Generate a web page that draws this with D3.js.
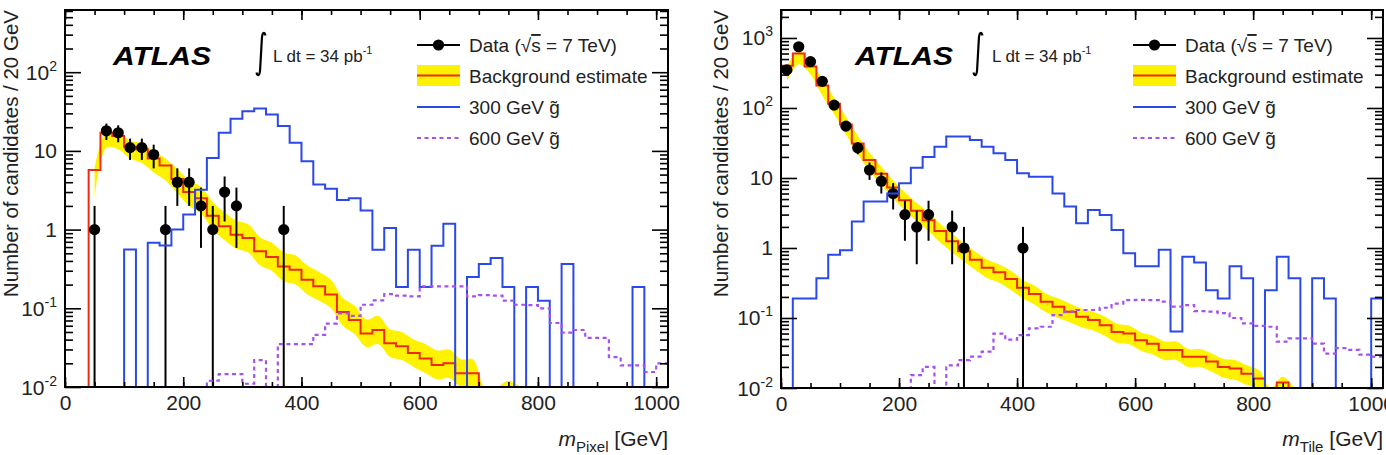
<!DOCTYPE html>
<html>
<head>
<meta charset="utf-8">
<script src="https://cdn.jsdelivr.net/npm/d3@7/dist/d3.min.js"></script>
<style>
  body { margin: 0; background: #ffffff; }
  svg { display: block; font-family: "Liberation Sans", Arial, Helvetica, sans-serif; }
</style>
</head>
<body>
<script>
// lower bin edges in GeV, every bin is 20 GeV wide
var binEdges = [0, 20, 40, 60, 80, 100, 120, 140, 160, 180, 200, 220, 240, 260, 280, 300, 320, 340, 360, 380,
                400, 420, 440, 460, 480, 500, 520, 540, 560, 580, 600, 620, 640, 660, 680, 700, 720, 740, 760, 780,
                800, 820, 840, 860, 880, 900, 920, 940, 960, 980, 1000];
var binWidth = 20;

// x-axis tick labels
var massTicks = [0, 200, 400, 600, 800, 1000];

// ---------- m_Pixel panel ----------
var pixelData = [0, 0, 1, 18, 17, 11, 11, 9, 1, 4, 4, 2, 1, 3, 2, 0, 0, 0, 1, 0,
                 0, 0, 0, 0, 0, 0, 0, 0, 0, 0, 0, 0, 0, 0, 0, 0, 0, 0, 0, 0,
                 0, 0, 0, 0, 0, 0, 0, 0, 0, 0, 0];
var pixelBkg = [0, 0, 5.7, 17, 15.5, 11.3, 10.5, 8.0, 6.5, 4.4, 3.0, 2.5, 1.5, 1.1, 0.86, 0.78, 0.53, 0.45, 0.34, 0.31,
                0.23, 0.19, 0.15, 0.09, 0.071, 0.048, 0.053, 0.036, 0.033, 0.027, 0.023, 0.019, 0.020, 0.015, 0.015, 0, 0, 0, 0, 0,
                0, 0, 0, 0, 0, 0, 0, 0, 0, 0, 0];
var pixelBkgLo = [null, null, 2.5, 11, 10.5, 8.0, 7.0, 5.3, 4.2, 2.9, 2.0, 1.6, 1.0, 0.73, 0.57, 0.51, 0.35, 0.30, 0.22, 0.20,
                  0.15, 0.125, 0.10, 0.06, 0.047, 0.032, 0.035, 0.024, 0.022, 0.018, 0.015, 0.0125, 0.013, 0.010, 0.010, 0.004, 0.002, 0.004, 0.001, null,
                  null, null, null, null, null, null, null, null, null, null, null];
var pixelBkgHi = [null, null, 6.0, 17.5, 17, 13.5, 12.5, 10, 8.0, 5.9, 4.2, 3.5, 2.25, 1.65, 1.3, 1.17, 0.8, 0.68, 0.51, 0.47,
                  0.35, 0.29, 0.23, 0.135, 0.107, 0.072, 0.08, 0.054, 0.05, 0.04, 0.035, 0.029, 0.03, 0.0225, 0.0225, 0.009, 0.006, 0.012, 0.003, null,
                  null, null, null, null, null, null, null, null, null, null, null];
var pixelSig300 = [0, 0, 0, 0, 0, 0.56, 0, 0.68, 0.63, 1.0, 1.55, 3.2, 8.1, 17, 25.7, 32, 34.5, 29, 20.7, 12.7,
                   7.4, 3.75, 3.3, 2.37, 2.5, 1.75, 0.556, 1.05, 0.186, 0.556, 0.186, 0.625, 1.19, 0, 0.25, 0.366, 0.436, 0.186, 0, 0.186,
                   0.125, 0, 0.366, 0, 0, 0, 0, 0, 0.186, 0, 0];
var pixelSig600 = [0, 0, 0, 0, 0, 0, 0, 0, 0, 0, 0, 0, 0.012, 0.0146, 0.0146, 0.011, 0.022, 0, 0.035, 0.035,
                   0.035, 0.046, 0.064, 0.086, 0.08, 0.111, 0.126, 0.151, 0.145, 0.142, 0.19, 0.19, 0.19, 0.19, 0.142, 0.147, 0.145, 0.125, 0.111, 0.11,
                   0.1, 0.065, 0.049, 0.053, 0.042, 0.042, 0.024, 0.0188, 0.0188, 0.0155, 0.02];

// ---------- m_Tile panel ----------
var tileData = [350, 750, 460, 240, 110, 55, 27, 13, 9, 6, 3, 2, 3, 0, 2, 1, 0, 0, 0, 0,
                1, 0, 0, 0, 0, 0, 0, 0, 0, 0, 0, 0, 0, 0, 0, 0, 0, 0, 0, 0,
                0, 0, 0, 0, 0, 0, 0, 0, 0, 0, 0];
var tileBkg = [400, 600, 390, 210, 115, 58, 31, 18, 11.5, 7.3, 4.8, 3.4, 2.5, 1.75, 1.25, 0.9, 0.68, 0.52, 0.45, 0.36,
               0.27, 0.22, 0.17, 0.145, 0.123, 0.104, 0.094, 0.079, 0.063, 0.060, 0.048, 0.043, 0.035, 0.035, 0.028, 0.028, 0.024, 0.020, 0.019, 0.016,
               0.0137, 0.005, 0.012, 0, 0, 0, 0, 0, 0, 0, 0];
var tileBkgLo = [240, 420, 300, 150, 82, 42, 22, 12.5, 8.0, 5.1, 3.4, 2.4, 1.75, 1.2, 0.87, 0.64, 0.48, 0.37, 0.32, 0.25,
                 0.19, 0.155, 0.12, 0.10, 0.086, 0.073, 0.066, 0.055, 0.044, 0.042, 0.034, 0.030, 0.025, 0.025, 0.020, 0.020, 0.017, 0.014, 0.013, 0.011,
                 0.0096, 0.003, 0.008, 0.001, null, null, null, null, null, null, null];
var tileBkgHi = [390, 640, 460, 260, 140, 75, 40, 23, 14.5, 9.2, 6.2, 4.4, 3.2, 2.2, 1.6, 1.17, 0.88, 0.68, 0.58, 0.47,
                 0.35, 0.29, 0.22, 0.19, 0.16, 0.135, 0.122, 0.103, 0.082, 0.078, 0.062, 0.056, 0.046, 0.046, 0.036, 0.036, 0.031, 0.026, 0.025, 0.021,
                 0.018, 0.008, 0.0145, 0.004, null, null, null, null, null, null, null];
var tileSig300 = [0, 0.19, 0.19, 0.37, 0.80, 0.93, 2.4, 4.6, 4.6, 6.0, 8.4, 14, 20, 28, 39, 39, 35, 28, 22.5, 18,
                  11.7, 10.4, 10.4, 6.0, 3.9, 2.25, 3.5, 2.96, 1.81, 0.84, 0.55, 0.55, 0.94, 0.064, 0.75, 0.62, 0.25, 0.19, 0.55, 0.37,
                  0, 0.25, 0.75, 0.37, 0, 0.37, 0.19, 0, 0, 0, 0.19];
var tileSig600 = [0, 0, 0, 0, 0, 0, 0, 0, 0, 0, 0, 0.0153, 0.020, 0, 0.021, 0.025, 0.028, 0.033, 0.060, 0.049,
                  0.057, 0.071, 0.075, 0.11, 0.123, 0.13, 0.13, 0.14, 0.16, 0.18, 0.181, 0.18, 0.171, 0.145, 0.153, 0.125, 0.123, 0.117, 0.1, 0.084,
                  0.077, 0.075, 0.046, 0.051, 0.051, 0.043, 0.031, 0.037, 0.035, 0.030, 0.028];

var w = 1386;
var h = 455;

// colours
const col = {band: "#fff200", bkg: "#ee2a10", sig300: "#2b48e8", sig600: "#a552f0"};
// smallest value we push through the log scale (clamped to the bottom)
const floorVal = 1e-4;

var svg = d3.select("body")
            .append("svg")
            .attr("width", w)
            .attr("height", h);

var panels = [
  {id: "pixel", sub: "Pixel", data: pixelData, bkg: pixelBkg, lo: pixelBkgLo, hi: pixelBkgHi,
   s300: pixelSig300, s600: pixelSig600, yMax: 617, decades: [-2, -1, 0, 1, 2],
   frame: {left: 65, right: 668, top: 10, bottom: 387},
   yTitleX: 18, atlasX: 113, integralX: 261, lumiX: 273, legX: 417},
  {id: "tile", sub: "Tile", data: tileData, bkg: tileBkg, lo: tileBkgLo, hi: tileBkgHi,
   s300: tileSig300, s600: tileSig600, yMax: 2510, decades: [-2, -1, 0, 1, 2, 3],
   frame: {left: 781, right: 1383, top: 10, bottom: 388},
   yTitleX: 728, atlasX: 855, integralX: 978, lumiX: 992, legX: 1133}
];

panels.forEach(drawPanel);

function drawPanel(p) {
  var f = p.frame;

  var x = d3.scaleLinear()
            .domain([0, 1020])
            .range([f.left, f.right]);

  var y = d3.scaleLog()
            .domain([0.01, p.yMax])
            .range([f.bottom, f.top])
            .clamp(true);

  svg.append("clipPath")
     .attr("id", "clip-" + p.id)
     .append("rect")
     .attr("x", f.left)
     .attr("y", f.top)
     .attr("width", f.right - f.left)
     .attr("height", f.bottom - f.top);

  var plot = svg.append("g").attr("clip-path", "url(#clip-" + p.id + ")");

  // yellow uncertainty band, smooth through bin centres
  var bandRows = binEdges.map(function(e, i) {
    return {x: e + binWidth / 2, lo: p.lo[i], hi: p.hi[i]};
  });
  var area = d3.area()
               .defined(function(d) { return d.lo != null; })
               .x(function(d) { return x(d.x); })
               .y0(function(d) { return y(Math.max(d.lo, floorVal)); })
               .y1(function(d) { return y(Math.max(d.hi, floorVal)); })
               .curve(d3.curveCatmullRom);
  plot.append("path")
      .datum(bandRows)
      .attr("d", area)
      .attr("fill", col.band);

  // step histograms
  var step = d3.line()
               .x(function(d) { return x(d[0]); })
               .y(function(d) { return y(Math.max(d[1], floorVal)); })
               .curve(d3.curveStepAfter);

  function stepPoints(values) {
    var pts = values.map(function(v, i) { return [binEdges[i], v]; });
    pts.push([binEdges[values.length - 1] + binWidth, values[values.length - 1]]);
    return pts;
  }

  plot.append("path")
      .datum(stepPoints(p.bkg))
      .attr("d", step)
      .attr("fill", "none")
      .attr("stroke", col.bkg)
      .attr("stroke-width", 2);

  // data points with sqrt(N) error bars
  var pts = [];
  p.data.forEach(function(n, i) {
    if (n > 0) pts.push({x: binEdges[i] + binWidth / 2, n: n});
  });

  plot.selectAll(".err-" + p.id)
      .data(pts)
      .enter()
      .append("line")
      .attr("x1", function(d) { return x(d.x); })
      .attr("x2", function(d) { return x(d.x); })
      .attr("y1", function(d) { return y(Math.max(d.n - Math.sqrt(d.n), floorVal)); })
      .attr("y2", function(d) { return y(d.n + Math.sqrt(d.n)); })
      .attr("stroke", "#000")
      .attr("stroke-width", 2);

  plot.selectAll(".dot-" + p.id)
      .data(pts)
      .enter()
      .append("circle")
      .attr("cx", function(d) { return x(d.x); })
      .attr("cy", function(d) { return y(d.n); })
      .attr("r", 5.6)
      .attr("fill", "#000");

  plot.append("path")
      .datum(stepPoints(p.s300))
      .attr("d", step)
      .attr("fill", "none")
      .attr("stroke", col.sig300)
      .attr("stroke-width", 2);

  plot.append("path")
      .datum(stepPoints(p.s600))
      .attr("d", step)
      .attr("fill", "none")
      .attr("stroke", col.sig600)
      .attr("stroke-width", 2.2)
      .attr("stroke-dasharray", "4,3.5");

  // ticks on all four sides, pointing inwards
  var majorX = massTicks;
  var minorX = d3.range(0, 1001, 50);
  var majorY = p.decades.map(function(k) { return Math.pow(10, k); });
  var minorY = [];
  p.decades.forEach(function(k) {
    for (var m = 2; m <= 9; m++) {
      var v = m * Math.pow(10, k);
      if (v <= p.yMax) minorY.push(v);
    }
  });

  function tickGroup(axis, tx, ty) {
    var g = svg.append("g")
               .attr("transform", "translate(" + tx + "," + ty + ")")
               .call(axis);
    g.select(".domain").remove();
    g.selectAll("line").attr("stroke-width", 1.6);
    return g;
  }

  var xb = tickGroup(d3.axisBottom(x).tickValues(majorX).tickSize(-10).tickPadding(8)
                       .tickFormat(d3.format("d")), 0, f.bottom);
  xb.selectAll("text")
    .attr("font-size", 21)
    .attr("font-family", "Liberation Sans, Arial, sans-serif")
    .attr("fill", "#222");
  tickGroup(d3.axisBottom(x).tickValues(minorX).tickSize(-5).tickFormat(""), 0, f.bottom);
  tickGroup(d3.axisTop(x).tickValues(majorX).tickSize(-10).tickFormat(""), 0, f.top);
  tickGroup(d3.axisTop(x).tickValues(minorX).tickSize(-5).tickFormat(""), 0, f.top);

  tickGroup(d3.axisLeft(y).tickValues(majorY).tickSize(-16).tickFormat(""), f.left, 0);
  tickGroup(d3.axisLeft(y).tickValues(minorY).tickSize(-8).tickFormat(""), f.left, 0);
  tickGroup(d3.axisRight(y).tickValues(majorY).tickSize(-16).tickFormat(""), f.right, 0);
  tickGroup(d3.axisRight(y).tickValues(minorY).tickSize(-8).tickFormat(""), f.right, 0);

  // decade labels: 10^-2 ... 10^3
  p.decades.forEach(function(k) {
    var t = svg.append("text")
               .attr("x", f.left - 8)
               .attr("y", y(Math.pow(10, k)) + 7.5)
               .attr("text-anchor", "end")
               .attr("font-size", 21)
               .attr("fill", "#222");
    if (k === 0) t.text("1");
    else if (k === 1) t.text("10");
    else {
      t.append("tspan").text("10");
      t.append("tspan").attr("dy", -9).attr("font-size", 14).text(k);
    }
  });

  // frame
  svg.append("rect")
     .attr("x", f.left)
     .attr("y", f.top)
     .attr("width", f.right - f.left)
     .attr("height", f.bottom - f.top)
     .attr("fill", "none")
     .attr("stroke", "#000")
     .attr("stroke-width", 2);

  // axis titles
  var xt = svg.append("text")
              .attr("x", f.right)
              .attr("y", 446)
              .attr("text-anchor", "end")
              .attr("font-size", 21)
              .attr("fill", "#222");
  xt.append("tspan").attr("font-style", "italic").text("m");
  xt.append("tspan").attr("font-size", 15).attr("dy", 6).text(p.sub);
  xt.append("tspan").attr("dy", -6).text(" [GeV]");

  svg.append("text")
     .attr("transform", "translate(" + p.yTitleX + "," + f.top + ") rotate(-90)")
     .attr("text-anchor", "end")
     .attr("font-size", 20.5)
     .attr("fill", "#222")
     .text("Number of candidates / 20 GeV");

  // ATLAS label and luminosity
  svg.append("text")
     .attr("x", p.atlasX)
     .attr("y", 65)
     .attr("font-size", 26)
     .attr("font-weight", "bold")
     .attr("font-style", "italic")
     .attr("textLength", 98)
     .attr("lengthAdjust", "spacingAndGlyphs")
     .text("ATLAS");

  var ix = p.integralX, iy = 32;
  svg.append("path")
     .attr("d", "M" + (ix + 4.5) + "," + (iy + 3.5) +
                " C" + (ix + 3.5) + "," + (iy - 1) + " " + (ix + 1) + "," + (iy) + " " + (ix + 0.8) + "," + (iy + 8) +
                " L" + (ix - 0.8) + "," + (iy + 36) +
                " C" + (ix - 1) + "," + (iy + 44) + " " + (ix - 3.5) + "," + (iy + 45) + " " + (ix - 4.5) + "," + (iy + 40.5))
     .attr("fill", "none")
     .attr("stroke", "#000")
     .attr("stroke-width", 2.2);

  var lumi = svg.append("text")
                .attr("x", p.lumiX)
                .attr("y", 62)
                .attr("font-size", 17)
                .attr("fill", "#222");
  lumi.append("tspan").text("L dt = 34 pb");
  lumi.append("tspan").attr("dy", -8).attr("font-size", 11).text("-1");

  // legend
  var lx0 = p.legX, lx1 = p.legX + 43, tx = p.legX + 52;
  var rows = [45, 75.5, 107, 138];

  svg.append("line").attr("x1", lx0).attr("x2", lx1).attr("y1", rows[0]).attr("y2", rows[0])
     .attr("stroke", "#000").attr("stroke-width", 2);
  svg.append("circle").attr("cx", (lx0 + lx1) / 2).attr("cy", rows[0]).attr("r", 5.6).attr("fill", "#000");

  svg.append("rect").attr("x", lx0).attr("y", rows[1] - 10.5).attr("width", lx1 - lx0).attr("height", 21)
     .attr("fill", col.band);
  svg.append("line").attr("x1", lx0).attr("x2", lx1).attr("y1", rows[1]).attr("y2", rows[1])
     .attr("stroke", col.bkg).attr("stroke-width", 2);

  svg.append("line").attr("x1", lx0).attr("x2", lx1).attr("y1", rows[2]).attr("y2", rows[2])
     .attr("stroke", col.sig300).attr("stroke-width", 2);

  svg.append("line").attr("x1", lx0).attr("x2", lx1).attr("y1", rows[3]).attr("y2", rows[3])
     .attr("stroke", col.sig600).attr("stroke-width", 2.2).attr("stroke-dasharray", "4,3.5");

  function legText(row) {
    return svg.append("text")
              .attr("x", tx)
              .attr("y", row + 7)
              .attr("font-size", 19)
              .attr("fill", "#222");
  }
  var t0 = legText(rows[0]);
  t0.append("tspan").text("Data (√");
  t0.append("tspan").style("text-decoration", "overline").text("s");
  t0.append("tspan").text(" = 7 TeV)");
  legText(rows[1]).text("Background estimate");
  legText(rows[2]).text("300 GeV g\u0303");
  legText(rows[3]).text("600 GeV g\u0303");
}
</script>
</body>
</html>
